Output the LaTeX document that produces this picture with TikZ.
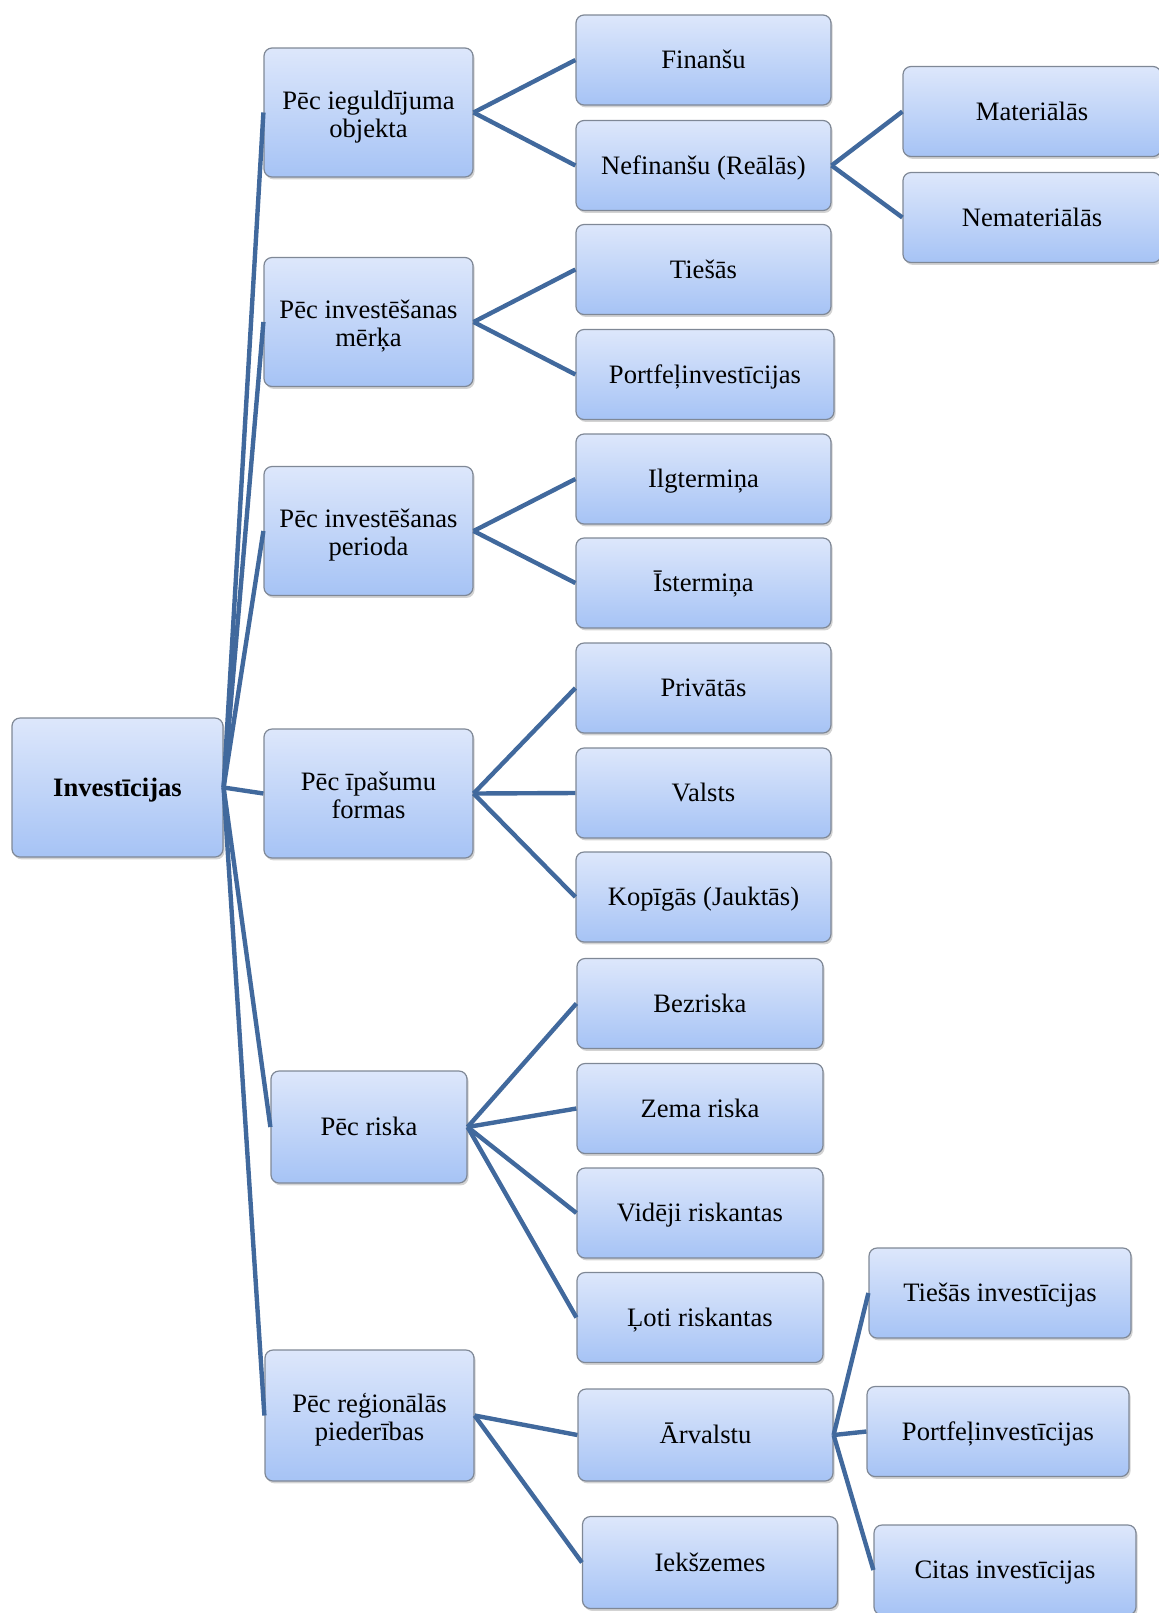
\documentclass[tikz,border=0pt]{standalone}
\usepackage{fontspec}
\setmainfont{Liberation Serif}
\usetikzlibrary{shadows}
\definecolor{boxtop}{HTML}{DDE7FB}
\definecolor{boxbot}{HTML}{A6C3F5}
\definecolor{boxline}{HTML}{7F8896}
\definecolor{conncol}{HTML}{41699D}
\newcommand{\tstrut}{\rule{0pt}{13.5pt}}
\tikzset{
	box/.style={draw=boxline,line width=0.6pt,rounded corners=4pt,
		top color=boxtop,bottom color=boxbot,align=center,inner sep=0pt,
		font=\fontsize{13.3}{14}\selectfont,
		execute at begin node={\rule[-0.216em]{0pt}{1.107em}},
		execute at end node={\rule[-0.216em]{0pt}{1.107em}},
		drop shadow={shadow xshift=0.8pt,shadow yshift=-1.2pt,opacity=0.35}},
	big/.style={box,minimum width=104.5pt,minimum height=64.5pt},
	leaf/.style={box,minimum width=127.5pt,minimum height=45pt},
	conn/.style={draw=conncol,line width=2.2pt}
}
\begin{document}
\begin{tikzpicture}[x=0.5pt,y=-0.5pt]
		\useasboundingbox (0,0) rectangle (1159,1613);
		\node[box,minimum width=105.5pt,minimum height=69.5pt] (inv) at (117.5,787.5) {\textbf{Investīcijas}};
		% first level
		\node[big] (obj) at (368.5,112.5) {\tstrut Pēc ieguldījuma\\objekta};
		\node[big] (merk) at (368.5,322) {\tstrut Pēc investēšanas\\mērķa};
		\node[big] (per) at (368.5,531) {\tstrut Pēc investēšanas\\perioda};
		\node[big] (ipas) at (368.5,793.5) {\tstrut Pēc īpašumu\\formas};
		\node[big,minimum width=98pt,minimum height=56pt] (risk) at (369,1127) {Pēc riska};
		\node[big,minimum height=65.5pt] (reg) at (369.5,1415.5) {\tstrut Pēc reģionālās\\piederības};
		% second level
		\node[leaf] (fin) at (703.5,60) {Finanšu};
		\node[leaf] (nefin) at (703.5,165.5) {Nefinanšu (Reālās)};
		\node[leaf] (ties) at (703.5,269.5) {Tiešās};
		\node[leaf,minimum width=129pt] (port) at (705,374.5) {Portfeļinvestīcijas};
		\node[leaf] (ilg) at (703.5,479) {Ilgtermiņa};
		\node[leaf] (ist) at (703.5,583) {Īstermiņa};
		\node[leaf] (priv) at (703.5,688) {Privātās};
		\node[leaf] (valst) at (703.5,793) {Valsts};
		\node[leaf] (kop) at (703.5,897) {Kopīgās (Jauktās)};
		\node[leaf,minimum width=123pt] (bez) at (700,1003.5) {Bezriska};
		\node[leaf,minimum width=123pt] (zema) at (700,1108.5) {Zema riska};
		\node[leaf,minimum width=123pt] (vid) at (700,1213) {Vidēji riskantas};
		\node[leaf,minimum width=123pt] (loti) at (700,1317.5) {Ļoti riskantas};
		\node[leaf,minimum height=46pt] (arv) at (705.5,1435) {Ārvalstu};
		\node[leaf,minimum height=46pt] (iek) at (710,1562.5) {Iekšzemes};
		% third level
		\node[leaf,minimum width=129pt] (mat) at (1032,111.5) {Materiālās};
		\node[leaf,minimum width=129pt] (nemat) at (1032,217.5) {Nemateriālās};
		\node[leaf,minimum width=131pt] (tinv) at (1000,1293) {Tiešās investīcijas};
		\node[leaf,minimum width=131pt] (pinv) at (998,1431.5) {Portfeļinvestīcijas};
		\node[leaf,minimum width=131pt] (cinv) at (1005,1570) {Citas investīcijas};
		% connectors
		\draw[conn] (inv.east) -- (obj.west);
		\draw[conn] (inv.east) -- (merk.west);
		\draw[conn] (inv.east) -- (per.west);
		\draw[conn] (inv.east) -- (ipas.west);
		\draw[conn] (inv.east) -- (risk.west);
		\draw[conn] (inv.east) -- (reg.west);
		\draw[conn] (obj.east) -- (fin.west);
		\draw[conn] (obj.east) -- (nefin.west);
		\draw[conn] (nefin.east) -- (mat.west);
		\draw[conn] (nefin.east) -- (nemat.west);
		\draw[conn] (merk.east) -- (ties.west);
		\draw[conn] (merk.east) -- (port.west);
		\draw[conn] (per.east) -- (ilg.west);
		\draw[conn] (per.east) -- (ist.west);
		\draw[conn] (ipas.east) -- (priv.west);
		\draw[conn] (ipas.east) -- (valst.west);
		\draw[conn] (ipas.east) -- (kop.west);
		\draw[conn] (risk.east) -- (bez.west);
		\draw[conn] (risk.east) -- (zema.west);
		\draw[conn] (risk.east) -- (vid.west);
		\draw[conn] (risk.east) -- (loti.west);
		\draw[conn] (reg.east) -- (arv.west);
		\draw[conn] (reg.east) -- (iek.west);
		\draw[conn] (arv.east) -- (tinv.west);
		\draw[conn] (arv.east) -- (pinv.west);
		\draw[conn] (arv.east) -- (cinv.west);
	\end{tikzpicture}
\end{document}
